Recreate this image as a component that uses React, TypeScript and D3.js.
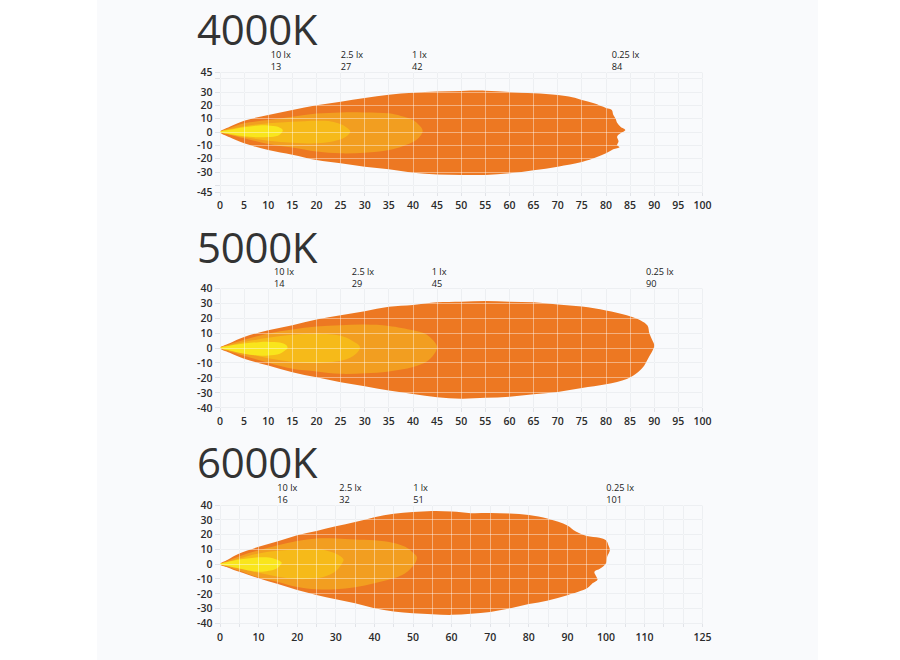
import React from "react";
import * as d3 from "d3";

// Isolux beam footprints for three colour temperatures.
// Each contour is an outline of [distance (m), lateral offset (m)] points.

const TITLES = ["4000K", "5000K", "6000K"];
const LEVEL_NAMES = ["10 lx", "2.5 lx", "1 lx", "0.25 lx"];
const LEVEL_COLORS = ["#F9E51C", "#F6BA19", "#F29E20", "#ED7822"];

// Reach (m) of each isolux level: 10, 2.5, 1, 0.25 lx
const REACH_4000K = [13, 27, 42, 84];
const REACH_5000K = [14, 29, 45, 90];
const REACH_6000K = [16, 32, 51, 101];

// ---- 4000K ----
const BEAM_4000K_025 = [
  [0, 0], [2, 4], [5, 8.5], [10, 12.7], [15, 16.5], [20, 20], [25, 22.7], [30, 25.5],
  [35, 28], [40, 29.5], [45, 30.3], [50, 30.8], [55, 31], [60, 30], [65, 29], [70, 27.7],
  [73, 26], [75, 24], [77.5, 21.5], [80, 18], [81.2, 16.5], [81.5, 13], [82, 10], [82.3, 7],
  [83, 4], [84, 1.5], [83, -1], [82.3, -3.5], [82.6, -7], [82.3, -10], [82.8, -11.5],
  [81.5, -13], [80, -16], [78, -19], [75, -22.5], [70, -26], [65, -28.7], [60, -31],
  [55, -32.2], [50, -32.2], [45, -31.8], [40, -30.5], [35, -28], [30, -26], [25, -23.5],
  [20, -21], [15, -17], [10, -13.5], [5, -8.5], [2, -4],
];
const BEAM_4000K_1 = [
  [0, 0], [2, 3], [5, 6.5], [10, 9], [15, 11.5], [20, 13.8], [25, 14.7], [30, 14.7],
  [35, 14], [37.5, 12], [40, 9], [41.3, 5], [42, 1], [41.5, -3], [40.3, -7], [38, -10.5],
  [35, -13.5], [30, -15.5], [25, -16], [20, -14.7], [15, -11.7], [10, -9], [5, -4.7], [2, -2],
];
const BEAM_4000K_25 = [
  [0, 0], [2, 2], [5, 4.3], [10, 6.5], [15, 7.7], [20, 8.5], [22.5, 8.2], [24.5, 6.5],
  [26, 4], [27, 0.5], [26.3, -3], [25, -5.5], [23, -7.3], [20, -8.5], [15, -8], [10, -6.5],
  [5, -3.8], [2, -1.8],
];
const BEAM_4000K_10 = [
  [0, 0], [2, 1.6], [5, 3.6], [8, 4.9], [10, 4.9], [12, 3.9], [13, 1.5], [12.7, -1],
  [12, -2.8], [10, -3.8], [8, -4], [5, -3.2], [2, -1.5],
];

// ---- 5000K ----
const BEAM_5000K_025 = [
  [0, 0], [2, 3.2], [5, 7.4], [10, 11.9], [15, 15.3], [20, 19.1], [25, 22], [30, 24.7],
  [35, 27.6], [40, 28.8], [45, 30.6], [50, 31], [55, 31.5], [60, 31], [65, 30.6], [70, 29.2],
  [75, 27.8], [80, 25.2], [84.3, 22], [87.2, 18.5], [88.6, 15], [89, 9.7], [89.6, 5.2],
  [90, 1.8], [89.6, -2], [88.9, -6], [88.4, -9], [87.7, -12.8], [86.2, -17.3], [84.3, -20.7],
  [80, -24.3], [75, -26.8], [70, -29.5], [65, -31], [60, -32.6], [55, -33.4], [50, -34],
  [45, -33], [40, -30.8], [35, -28.5], [30, -25.6], [25, -22.9], [20, -19.6], [15, -16.2],
  [10, -11.7], [5, -7.2], [2, -3.2],
];
const BEAM_5000K_1 = [
  [0, 0], [2, 2.5], [5, 5.5], [10, 9.7], [15, 12.4], [20, 14.4], [25, 15.3], [30, 15.7],
  [35, 14.8], [40, 11.9], [42.4, 9.7], [43.8, 6.3], [45, 1], [44.6, -3], [43.1, -8.5],
  [40, -12.8], [35, -15.7], [30, -16.9], [25, -17.3], [20, -15.7], [15, -13.9], [10, -9.9],
  [5, -5.2], [2, -2.3],
];
const BEAM_5000K_25 = [
  [0, 0], [2, 1.8], [5, 4], [10, 6.8], [15, 8.8], [20, 9.5], [25, 8.2], [27.3, 5], [29, 0.7],
  [28.3, -3.5], [26.6, -7], [25, -8.5], [20, -10], [15, -9.3], [10, -6.9], [5, -3.5], [2, -1.6],
];
const BEAM_5000K_10 = [
  [0, 0], [2, 1.5], [5, 3], [8, 3.9], [10, 4.1], [12.4, 3.7], [13.7, 2], [14, 0],
  [13.4, -1.8], [12.4, -3.8], [10, -5], [8, -5], [5, -3.8], [2, -1.6],
];

// ---- 6000K ----
const BEAM_6000K_025 = [
  [0, 0], [2, 3], [5, 7.2], [10, 11.7], [15, 15.5], [20, 19.5], [25, 22.4], [30, 25.6],
  [35, 28.5], [40, 31.8], [45, 34], [50, 35.2], [55, 35.9], [60, 35.6], [65, 34.5],
  [70, 34.6], [75, 34.2], [80, 33.2], [85, 30.7], [90, 26.2], [92.2, 22], [95, 19],
  [98.3, 17.8], [100, 16.1], [100.6, 13], [101, 9.4], [100.3, 5], [100, 0.6], [98.5, -3],
  [97, -5.2], [97.4, -8], [97.8, -10.5], [96.5, -13], [95.2, -16.2], [90, -21], [85, -24.5],
  [80, -27], [75, -30], [70, -32.3], [65, -33.6], [60, -34.3], [55, -33.9], [50, -33.2],
  [45, -32], [40, -29.8], [35, -26.5], [30, -23.8], [25, -20.9], [20, -17.5], [15, -13.5],
  [10, -9.6], [5, -5.2], [2, -2.2],
];
const BEAM_6000K_1 = [
  [0, 0], [2, 2.3], [5, 5.4], [10, 9.4], [15, 12.8], [20, 15.7], [25, 17.3], [30, 17.3],
  [35, 16.6], [40, 16.1], [45, 14.3], [48, 11.7], [49.8, 8.3], [51, 4.9], [50.5, 0.4],
  [49.4, -2.9], [48.5, -5.2], [47.2, -7.4], [45, -9.6], [40, -13], [35, -15.7], [30, -17],
  [25, -17], [20, -15.5], [15, -12], [10, -9], [5, -4.5], [2, -1.8],
];
const BEAM_6000K_25 = [
  [0, 0], [2, 1.6], [5, 3.8], [10, 7.2], [15, 9], [20, 9.9], [25, 10.1], [27.3, 9.4],
  [29.9, 7.2], [31.2, 5.4], [32, 3.1], [31.6, 0.4], [30.7, -2.9], [29.4, -5.8], [27.3, -8.1],
  [25, -9.6], [20, -10.1], [15, -8.5], [10, -5.8], [5, -2.9], [2, -1.2],
];
const BEAM_6000K_10 = [
  [0, 0], [2, 1.4], [5, 3.1], [10, 4.6], [12.6, 4.5], [14.7, 3.1], [16, 0.9], [15.6, -0.7],
  [14.7, -2.9], [12.6, -4.5], [10, -5.2], [5, -2.9], [2, -1.2],
];

// Axis ticks
const X_GRID_100 = [0, 5, 10, 15, 20, 25, 30, 35, 40, 45, 50, 55, 60, 65, 70, 75, 80, 85, 90, 95, 100];
const X_LABELS_100 = X_GRID_100;
const X_GRID_125 = [0, 5, 10, 15, 20, 25, 30, 35, 40, 45, 50, 55, 60, 65, 70, 75, 80, 85, 90, 95, 100, 105, 110, 115, 120, 125];
const X_LABELS_125 = [0, 10, 20, 30, 40, 50, 60, 70, 80, 90, 100, 110, 125];
const Y_GRID_45 = [45, 40, 30, 20, 10, 0, -10, -20, -30, -40, -45];
const Y_LABELS_45 = [45, 30, 20, 10, 0, -10, -20, -30, -45];
const Y_GRID_40 = [40, 30, 20, 10, 0, -10, -20, -30, -40];
const Y_LABELS_40 = Y_GRID_40;

type Pt = number[];

interface PanelProps {
  title: string;
  reach: number[];
  contours: Pt[][]; // 10, 2.5, 1, 0.25 lx
  xMax: number;
  xGrid: number[];
  xLabels: number[];
  yMax: number;
  yGrid: number[];
  yLabels: number[];
  top: number;
  bottom: number;
  titleY: number;
  labelNudge: number[];
}

const FONT = "'Open Sans', 'Noto Sans', sans-serif";
const X0 = 220;
const X1 = 702.5;

function Panel(p: PanelProps) {
  const x = d3.scaleLinear().domain([0, p.xMax]).range([X0, X1]);
  const y = d3.scaleLinear().domain([-p.yMax, p.yMax]).range([p.bottom, p.top]);
  const line = d3
    .line<Pt>()
    .x((d) => x(d[0]))
    .y((d) => y(d[1]))
    .curve(d3.curveCatmullRomClosed.alpha(0.5));

  const grid = (stroke: string, opacity: number, ext: boolean) => (
    <g stroke={stroke} strokeOpacity={opacity} strokeWidth={1} fill="none" shapeRendering="crispEdges">
      {p.xGrid.map((v) => (
        <line key={"vx" + v} x1={x(v)} x2={x(v)} y1={y(p.yMax)} y2={y(-p.yMax) + (ext ? 4 : 0)} />
      ))}
      {p.yGrid.map((v) => (
        <line key={"hy" + v} x1={X0 - (ext ? 5 : 0)} x2={X1} y1={y(v)} y2={y(v)} />
      ))}
    </g>
  );

  const order = [3, 2, 1, 0];

  return (
    <g>
      <text x={197} y={p.titleY} fontFamily={FONT} fontSize={42} fill="#333" letterSpacing={-0.3}>
        {p.title}
      </text>
      {grid("#e1e3e8", 1, true)}
      {order.map((i) => (
        <path key={"c" + i} d={line(p.contours[i]) || ""} fill={LEVEL_COLORS[i]} stroke="none" />
      ))}
      {grid("#ffffff", 0.42, false)}
      {p.yLabels.map((v) => (
        <text
          key={"yl" + v}
          x={212.5}
          y={y(v) + 3.8}
          textAnchor="end"
          fontFamily={FONT}
          fontSize={10.5}
          fontWeight={600}
          fill="#2b2b2b"
        >
          {v}
        </text>
      ))}
      {p.xLabels.map((v) => (
        <text
          key={"xl" + v}
          x={x(v)}
          y={p.bottom + 17.3}
          textAnchor="middle"
          fontFamily={FONT}
          fontSize={10.5}
          fontWeight={600}
          fill="#2b2b2b"
        >
          {v}
        </text>
      ))}
      {p.reach.map((r, i) => (
        <g key={"r" + i} fontFamily={FONT} fontSize={9.2} fontWeight={500} fill="#1a1a1a">
          <text x={x(r) - p.labelNudge[i]} y={p.top - 13.8}>
            {LEVEL_NAMES[i]}
          </text>
          <text x={x(r) - p.labelNudge[i]} y={p.top - 1.8}>
            {r}
          </text>
        </g>
      ))}
    </g>
  );
}

export default function App() {
  return (
    <svg
      width={900}
      height={660}
      viewBox="0 0 900 660"
      style={{ position: "absolute", left: 0, top: 0, display: "block", background: "#ffffff" }}
    >
      <rect x={97} y={0} width={721} height={660} fill="#f9fafc" />
      <Panel
        title={TITLES[0]}
        reach={REACH_4000K}
        contours={[BEAM_4000K_10, BEAM_4000K_25, BEAM_4000K_1, BEAM_4000K_025]}
        xMax={100}
        xGrid={X_GRID_100}
        xLabels={X_LABELS_100}
        yMax={45}
        yGrid={Y_GRID_45}
        yLabels={Y_LABELS_45}
        top={72}
        bottom={192}
        titleY={45}
        labelNudge={[12, 9.6, 10.7, 13.6]}
      />
      <Panel
        title={TITLES[1]}
        reach={REACH_5000K}
        contours={[BEAM_5000K_10, BEAM_5000K_25, BEAM_5000K_1, BEAM_5000K_025]}
        xMax={100}
        xGrid={X_GRID_100}
        xLabels={X_LABELS_100}
        yMax={40}
        yGrid={Y_GRID_40}
        yLabels={Y_LABELS_40}
        top={288.3}
        bottom={407.7}
        titleY={263}
        labelNudge={[13.6, 8.2, 5.4, 8.3]}
      />
      <Panel
        title={TITLES[2]}
        reach={REACH_6000K}
        contours={[BEAM_6000K_10, BEAM_6000K_25, BEAM_6000K_1, BEAM_6000K_025]}
        xMax={125}
        xGrid={X_GRID_125}
        xLabels={X_LABELS_125}
        yMax={40}
        yGrid={Y_GRID_40}
        yLabels={Y_LABELS_40}
        top={505}
        bottom={623.3}
        titleY={478}
        labelNudge={[4.5, 4.3, 3.7, 3.6]}
      />
    </svg>
  );
}
